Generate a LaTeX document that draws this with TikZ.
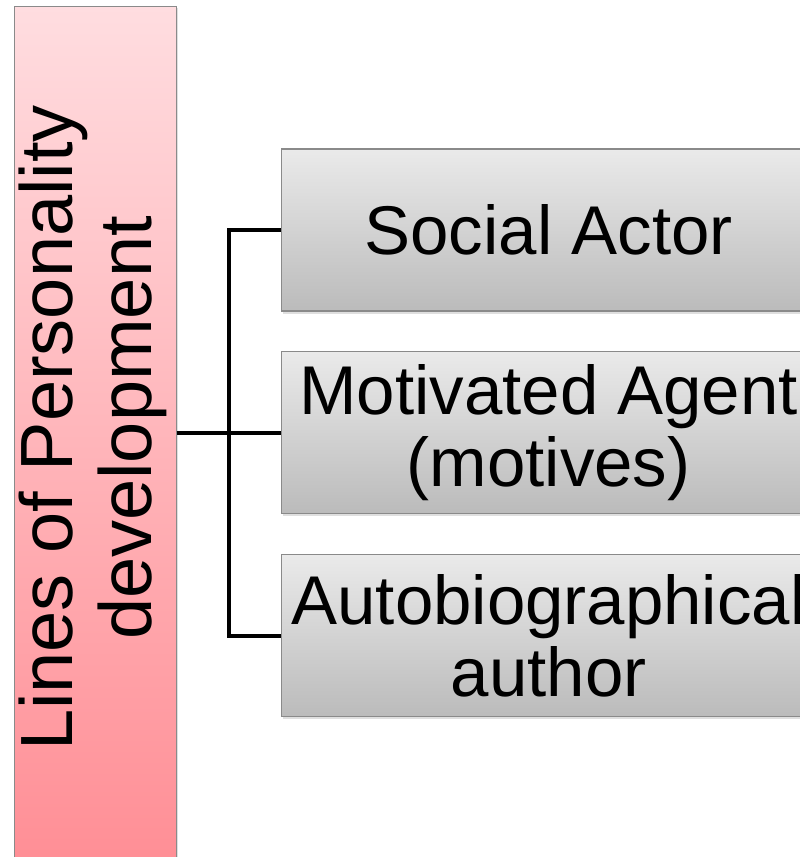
\documentclass[tikz,border=0pt]{standalone}
\usepackage{fontspec}
\setmainfont{Liberation Sans}
\usetikzlibrary{shadows}
\definecolor{pinktop}{HTML}{FFDDE0}
\definecolor{pinkbot}{HTML}{FF8E95}
\definecolor{greytop}{HTML}{EAEAEA}
\definecolor{greybot}{HTML}{BBBBBB}
\definecolor{edgegrey}{HTML}{8A8A8A}
\tikzset{
  pinkbar/.style={draw=edgegrey, line width=1.2pt, top color=pinktop, bottom color=pinkbot,
    minimum width=162pt, minimum height=860pt, inner sep=0pt, anchor=north west,
    drop shadow={opacity=0.25, shadow xshift=1.5pt, shadow yshift=-1.5pt}},
  itembox/.style={draw=edgegrey, line width=1.2pt, top color=greytop, bottom color=greybot,
    minimum width=534pt, minimum height=162pt, inner sep=0pt, anchor=west, align=center,
    font=\fontsize{69}{72}\selectfont,
    drop shadow={opacity=0.25, shadow xshift=1.5pt, shadow yshift=-2.5pt}},
  barlabel/.style={rotate=90, align=center, font=\fontsize{74}{79}\selectfont},
  conn/.style={line width=4pt, draw=black}
}
\begin{document}
\begin{tikzpicture}[x=1pt, y=-1pt]
  \useasboundingbox (0,0) rectangle (800,857);
  % tall category bar on the left
  \node[pinkbar] (bar) at (13.5,5.5) {};
  \node[barlabel] (barlabel) at (93,428) {Lines of Personality\\development};
  % three item boxes
  \node[itembox] (b1) at (281,230) {Social Actor};
  \node[itembox] (b2) at (281,432.5) {Motivated Agent\\(motives)};
  \node[itembox] (b3) at (281,635.5) {Autobiographical\\author};
  % bracket connectors
  \coordinate (fork) at (228.5,432.5);
  \draw[conn] (bar.east |- b2.west) -- (b2.west);
  \draw[conn] (b1.west) -- (fork |- b1.west) -- (fork |- b3.west) -- (b3.west);
\end{tikzpicture}
\end{document}
